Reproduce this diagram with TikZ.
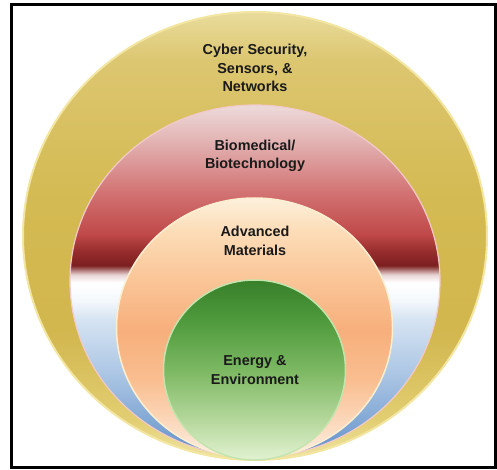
\documentclass[tikz,border=0pt]{standalone}
\usepackage{fontspec}
\setmainfont{Liberation Sans}
\definecolor{gold1}{HTML}{E9DC9C}
\definecolor{gold2}{HTML}{DCC670}
\definecolor{gold3}{HTML}{D4BA52}
\definecolor{gold4}{HTML}{D2B64E}
\definecolor{gold5}{HTML}{E2CE72}
\definecolor{gold6}{HTML}{F0E4A4}
\definecolor{goldrim}{HTML}{F2E6A2}
\definecolor{bio1}{HTML}{EDDADA}
\definecolor{bio2}{HTML}{E3B4B4}
\definecolor{bio3}{HTML}{D27272}
\definecolor{bio4}{HTML}{C04848}
\definecolor{bio5}{HTML}{962C2C}
\definecolor{bio6}{HTML}{7C1F1F}
\definecolor{bio7}{HTML}{E8D4D4}
\definecolor{bio8}{HTML}{F4F8FC}
\definecolor{bio9}{HTML}{D6E4F2}
\definecolor{bio10}{HTML}{A9C4E3}
\definecolor{bio11}{HTML}{7AA2D2}
\definecolor{bio12}{HTML}{5F8CCB}
\definecolor{biorim}{HTML}{F2CACA}
\definecolor{mat1}{HTML}{FDF0DC}
\definecolor{mat2}{HTML}{FCDDB8}
\definecolor{mat3}{HTML}{FAC597}
\definecolor{mat4}{HTML}{F7AF7C}
\definecolor{mat5}{HTML}{F9BE90}
\definecolor{mat6}{HTML}{FCDDC4}
\definecolor{mat7}{HTML}{FEF0E6}
\definecolor{matrim}{HTML}{FBEFD2}
\definecolor{env1}{HTML}{387F2A}
\definecolor{env2}{HTML}{4E9A3C}
\definecolor{env3}{HTML}{7CB862}
\definecolor{env4}{HTML}{B5D89C}
\definecolor{env5}{HTML}{E2F2D2}
\definecolor{envrim}{HTML}{C4E4AE}
\definecolor{textgray}{HTML}{1A1A1A}
\pgfdeclareverticalshading{goldring}{100bp}{color(0bp)=(gold6); color(25bp)=(gold6);
  color(29.5bp)=(gold5); color(39.5bp)=(gold4); color(54bp)=(gold3);
  color(69.6bp)=(gold2); color(75bp)=(gold1); color(100bp)=(gold1)}
\pgfdeclareverticalshading{bioglass}{100bp}{color(0bp)=(bio12); color(25bp)=(bio12);
  color(28.8bp)=(bio11); color(36.4bp)=(bio10); color(44.6bp)=(bio9);
  color(47.2bp)=(bio8); color(49.8bp)=(white); color(50.9bp)=(bio7);
  color(52.2bp)=(bio6); color(54.2bp)=(bio5); color(56.6bp)=(bio4);
  color(62.5bp)=(bio3); color(70bp)=(bio2); color(75bp)=(bio1); color(100bp)=(bio1)}
\pgfdeclareverticalshading{matglow}{100bp}{color(0bp)=(mat7); color(25bp)=(mat7);
  color(30.4bp)=(mat6); color(40bp)=(mat5); color(49.6bp)=(mat4);
  color(59.2bp)=(mat3); color(68.8bp)=(mat2); color(75bp)=(mat1); color(100bp)=(mat1)}
\pgfdeclareverticalshading{envglow}{100bp}{color(0bp)=(env5); color(25bp)=(env5);
  color(36.1bp)=(env4); color(50bp)=(env3); color(63.9bp)=(env2);
  color(75bp)=(env1); color(100bp)=(env1)}
\tikzset{areatext/.style={align=center, text=textgray,
  font=\fontsize{14.4}{18.5}\selectfont\bfseries}}
\begin{document}
\begin{tikzpicture}[x=1pt, y=-1pt]
\useasboundingbox (0,0) rectangle (497,470);
\shade[shading=goldring, draw=goldrim, line width=2pt] (255,236) ellipse [x radius=232, y radius=224];
\shade[shading=bioglass, draw=biorim, line width=1.2pt] (255,281) ellipse [x radius=185, y radius=176];
\shade[shading=matglow, draw=matrim, line width=1.5pt] (254.5,328) ellipse [x radius=138, y radius=130];
\shade[shading=envglow, draw=envrim, line width=1.5pt] (254.5,370) ellipse [x radius=91, y radius=90];
\node[areatext] (cyber) at (255,68) {Cyber Security,\\Sensors, \&\\Networks};
\node[areatext] (bio) at (255,156) {Biomedical/\\Biotechnology};
\node[areatext] (materials) at (255,241) {Advanced\\Materials};
\node[areatext] (energy) at (255,370) {Energy \&\\Environment};
\draw[line width=2.6pt] (11.5,4.3) rectangle (495.3,467.5);
\end{tikzpicture}
\end{document}
